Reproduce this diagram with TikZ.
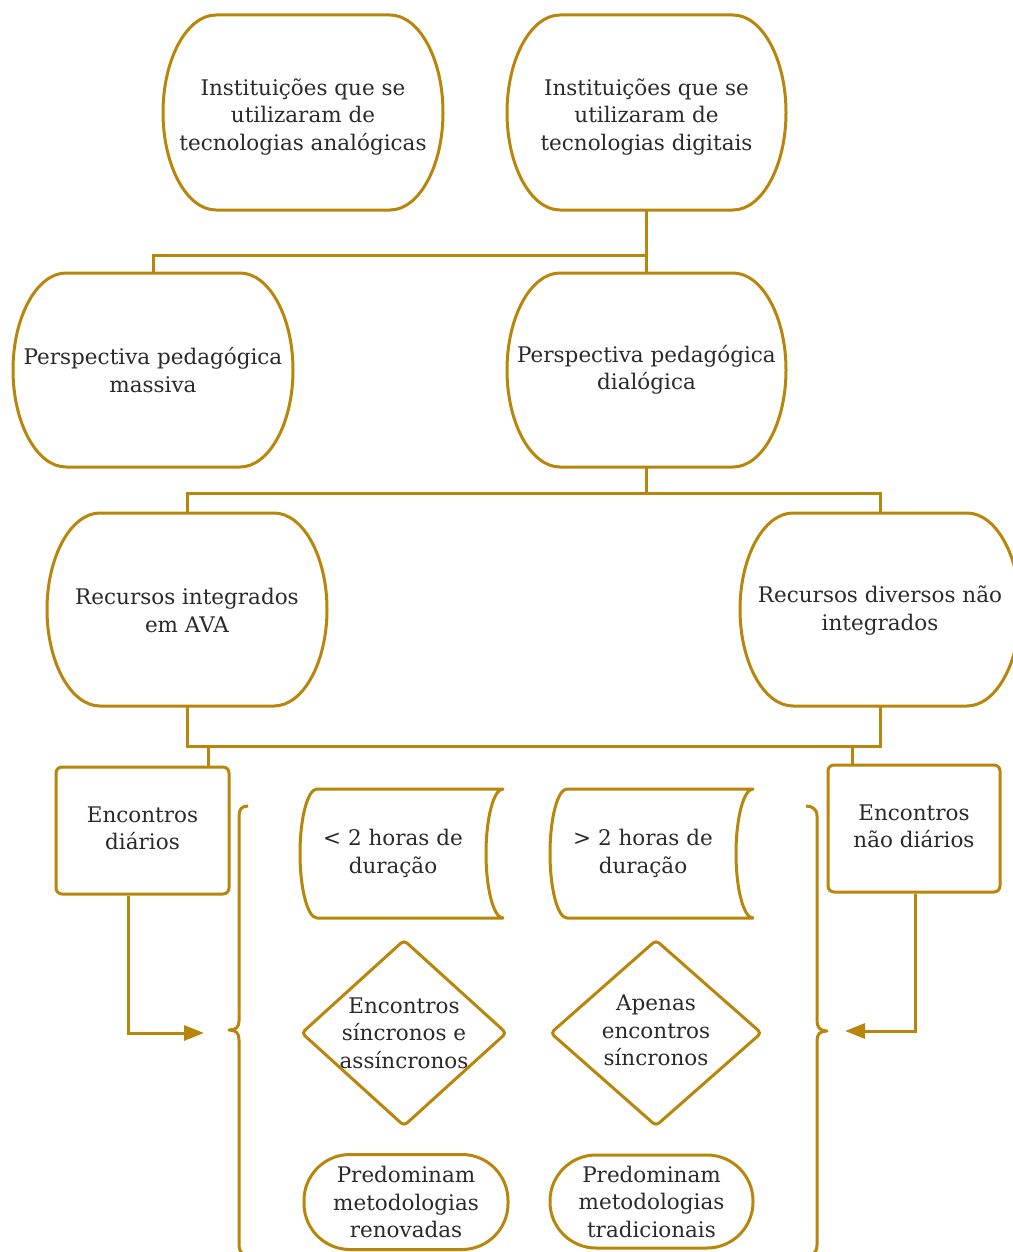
\documentclass[tikz,border=0pt]{standalone}
\usepackage{fontspec}
\setmainfont{DejaVu Serif}
\usetikzlibrary{arrows.meta}
\definecolor{gold}{RGB}{184,134,11}
\definecolor{ink}{RGB}{42,42,42}

\tikzset{
  edge/.style={draw=gold, line width=3pt},
  shapeline/.style={draw=gold, line width=3pt, line join=round},
  txt/.style={text=ink, align=center, inner sep=0pt, font=\fontsize{21.5}{27.5}\selectfont},
  tipto/.style={-{Triangle[length=20pt,width=15pt]}},
  meetbox/.style={txt, shapeline, rounded corners=6pt, minimum width=173, minimum height=127},
  stadium/.style={txt, shapeline, rounded corners=46pt},
}

% [text options] name, cx, cy, half width, half height, text
\newcommand\bulgebox[7][]{%
  \draw[shapeline] (#3-#5+53,#4-#6) -- (#3+#5-53,#4-#6)
    .. controls (#3+#5-24,#4-#6) and (#3+#5,#4-0.55*#6) .. (#3+#5,#4)
    .. controls (#3+#5,#4+0.55*#6) and (#3+#5-24,#4+#6) .. (#3+#5-53,#4+#6)
    -- (#3-#5+53,#4+#6)
    .. controls (#3-#5+24,#4+#6) and (#3-#5,#4+0.55*#6) .. (#3-#5,#4)
    .. controls (#3-#5,#4-0.55*#6) and (#3-#5+24,#4-#6) .. cycle;
  \node[txt, minimum width={2*#5}, minimum height={2*#6}] (#2) at (#3,#4) {};
  \node[txt, #1] at (#2.center) {#7};
}

% name, left x of flat line, right x, top y, bottom y, text
\newcommand\datastorebox[6]{%
  \pgfmathsetmacro\sm{(#4+#5)/2}%
  \pgfmathsetmacro\sh{(#5-#4)/2}%
  \node[txt, minimum width={#3-#2}, minimum height={#5-#4}] (#1) at ({(#2+#3)/2-17},\sm) {#6};
  \draw[shapeline] (#2,#4) -- (#3,#4)
    .. controls (#3-9.35,#4) and (#3-17,\sm-0.55*\sh) .. (#3-17,\sm)
    .. controls (#3-17,\sm+0.55*\sh) and (#3-9.35,#5) .. (#3,#5)
    -- (#2,#5)
    .. controls (#2-9.35,#5) and (#2-17,\sm+0.55*\sh) .. (#2-17,\sm)
    .. controls (#2-17,\sm-0.55*\sh) and (#2-9.35,#4) .. cycle;
}

\begin{document}
\begin{tikzpicture}[x=1pt, y=-1pt]
\useasboundingbox (0,0) rectangle (1012,1252);
\fill[white] (0,0) rectangle (1012,1252);

\bulgebox[yshift=-4.5pt]{ana}{303}{112.5}{140}{97.5}{Instituições que se\\utilizaram de\\tecnologias analógicas}
\bulgebox[yshift=-4.5pt]{dig}{646.5}{112.5}{139.5}{97.5}{Instituições que se\\utilizaram de\\tecnologias digitais}
\bulgebox{mas}{153}{370}{140}{97}{Perspectiva pedagógica\\massiva}
\bulgebox{dia}{646.5}{370}{139.5}{97}{Perspectiva pedagógica\\dialógica}
\bulgebox[yshift=-1pt]{ava}{187}{609.5}{140}{96.5}{Recursos integrados\\em AVA}
\bulgebox[yshift=-1pt]{rdn}{880}{609.5}{140}{96.5}{Recursos diversos não\\integrados}

\node[meetbox] (ed) at (142.5,830.5) {};
\node[txt] at ([yshift=2pt]ed.center) {Encontros\\diários};
\node[meetbox, minimum width=172] (end) at (914,828.5) {};
\node[txt] at ([yshift=2pt]end.center) {Encontros\\não diários};

\datastorebox{s1}{317}{503}{789}{918}{< 2 horas de\\duração}
\datastorebox{s2}{567}{753}{789}{918}{> 2 horas de\\duração}

\node[txt, minimum width=204, minimum height=185] (d1) at (404,1033) {Encontros\\síncronos e\\assíncronos};
\draw[shapeline, rounded corners=4pt] (d1.north) -- (d1.east) -- (d1.south) -- (d1.west) -- cycle;
\node[txt, minimum width=210, minimum height=185] (d2) at (656,1033) {};
\node[txt] at ([yshift=2.5pt]d2.center) {Apenas\\encontros\\síncronos};
\draw[shapeline, rounded corners=4pt] (d2.north) -- (d2.east) -- (d2.south) -- (d2.west) -- cycle;

\node[stadium, minimum width=204, minimum height=95] (p1) at (406,1202) {Predominam\\metodologias\\renovadas};
\node[stadium, minimum width=203, minimum height=93] (p2) at (651.5,1201.5) {Predominam\\metodologias\\tradicionais};

% connectors
\draw[edge] (dig.south) -- (dia.north);
\draw[edge] (dig.south) -- ++(0,45) -| (mas.north);
\draw[edge] (dia.south) -- ++(0,26) coordinate (j2) -| (ava.north);
\draw[edge] (j2) -| (rdn.north);
\draw[edge] (ava.south) -- ++(0,40) coordinate (bus) -| (rdn.south);
\draw[edge] ([xshift=65.5pt]ed.north) |- (bus);
\draw[edge] ([xshift=-62pt]end.north) |- (bus);

\coordinate (ltip) at (204,1033);
\coordinate (rtip) at (845,1031);
\draw[edge, tipto] ([xshift=-14.5pt]ed.south) |- (ltip);
\draw[edge, tipto] ([xshift=1pt]end.south) |- (rtip);

% braces
\draw[shapeline] (248,806) .. controls (242,806) and (239,809) .. (239,816)
  -- (239,1021) .. controls (239,1027) and (236,1030) .. (229,1030)
  .. controls (236,1030) and (239,1033) .. (239,1040)
  -- (239,1245) .. controls (239,1251) and (241,1254) .. (248,1255);
\draw[shapeline] (806,806) .. controls (812,806) and (817,809) .. (817,816)
  -- (817,1021) .. controls (817,1027) and (820,1031) .. (827,1031)
  .. controls (820,1031) and (817,1034) .. (817,1041)
  -- (817,1245) .. controls (817,1251) and (815,1254) .. (808,1255);
\end{tikzpicture}
\end{document}
